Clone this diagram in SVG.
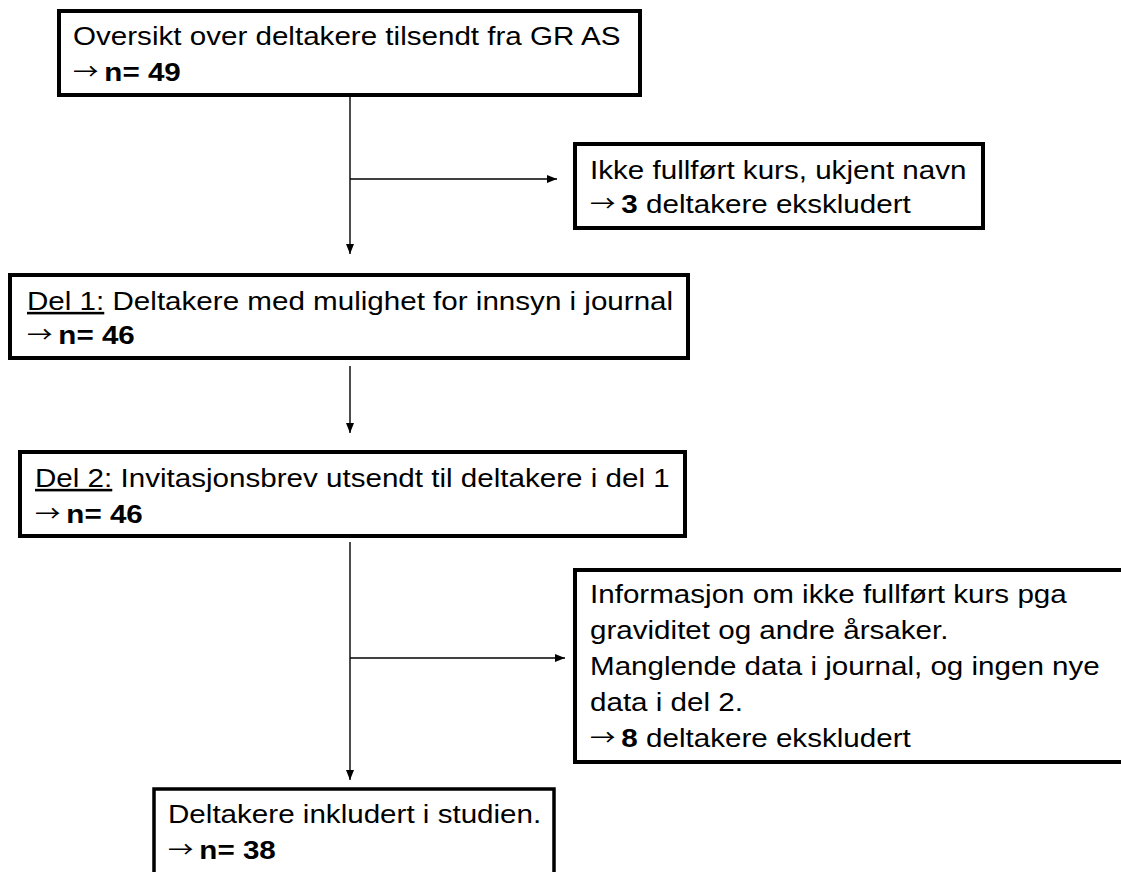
<svg xmlns="http://www.w3.org/2000/svg" width="1121" height="872" viewBox="0 0 1121 872">
<style>
.box{fill:#fff;stroke:#000;stroke-width:4}
.thin{stroke-width:3.5}
.t{font-family:"Liberation Sans",Arial,sans-serif;font-size:25.6px;fill:#000}
.a{font-family:"Noto Sans CJK JP","DejaVu Sans",sans-serif;font-size:22px}
.b{font-weight:bold}
.u{text-decoration:underline}
.c{fill:none;stroke:#000;stroke-width:1.4}
</style>
<defs>
<marker id="ah" markerUnits="userSpaceOnUse" markerWidth="10" markerHeight="8" refX="10" refY="4" orient="auto">
<path d="M0,0 L10,4 L0,8 z" fill="#000"/>
</marker>
</defs>
<rect width="1121" height="872" fill="#fff"/>
<g id="connectors">
<path class="c" d="M350,97 V254" marker-end="url(#ah)"/>
<path class="c" d="M350,179 H557" marker-end="url(#ah)"/>
<path class="c" d="M350,366 V433" marker-end="url(#ah)"/>
<path class="c" d="M350,542 V780" marker-end="url(#ah)"/>
<path class="c" d="M350,658 H565" marker-end="url(#ah)"/>
</g>
<g id="n1">
<rect class="box" x="59" y="11" width="581" height="84"/>
<text class="t" transform="matrix(1.156 0 0 1 73 0)"><tspan x="0" y="45">Oversikt over deltakere tilsendt fra GR AS</tspan><tspan x="0" y="81"><tspan class="a" dy="-2">→</tspan><tspan dy="2" dx="-2"> </tspan><tspan class="b">n= 49</tspan></tspan></text>
</g>
<g id="n2">
<rect class="box" x="575" y="144" width="408" height="84"/>
<text class="t" transform="matrix(1.156 0 0 1 590 0)"><tspan x="0" y="179">Ikke fullført kurs, ukjent navn</tspan><tspan x="0" y="213"><tspan class="a" dy="-2">→</tspan><tspan dy="2" dx="-2"> </tspan><tspan class="b">3</tspan> deltakere ekskludert</tspan></text>
</g>
<g id="n3">
<rect class="box" x="10" y="275" width="678" height="83"/>
<text class="t" transform="matrix(1.156 0 0 1 27 0)"><tspan x="0" y="310"><tspan class="u">Del 1:</tspan> Deltakere med mulighet for innsyn i journal</tspan><tspan x="0" y="344"><tspan class="a" dy="-2">→</tspan><tspan dy="2" dx="-2"> </tspan><tspan class="b">n= 46</tspan></tspan></text>
</g>
<g id="n4">
<rect class="box" x="20" y="452" width="665" height="84"/>
<text class="t" transform="matrix(1.156 0 0 1 35 0)"><tspan x="0" y="487"><tspan class="u">Del 2:</tspan> Invitasjonsbrev utsendt til deltakere i del 1</tspan><tspan x="0" y="523"><tspan class="a" dy="-2">→</tspan><tspan dy="2" dx="-2"> </tspan><tspan class="b">n= 46</tspan></tspan></text>
</g>
<g id="n5">
<rect class="box" x="575" y="570" width="560" height="192"/>
<text class="t" transform="matrix(1.156 0 0 1 590 0)"><tspan x="0" y="603">Informasjon om ikke fullført kurs pga</tspan><tspan x="0" y="639">graviditet og andre årsaker.</tspan><tspan x="0" y="675">Manglende data i journal, og ingen nye</tspan><tspan x="0" y="711">data i del 2.</tspan><tspan x="0" y="747"><tspan class="a" dy="-2">→</tspan><tspan dy="2" dx="-2"> </tspan><tspan class="b">8</tspan> deltakere ekskludert</tspan></text>
</g>
<g id="n6">
<rect class="box thin" x="154" y="789" width="400" height="100"/>
<text class="t" transform="matrix(1.156 0 0 1 168 0)"><tspan x="0" y="823">Deltakere inkludert i studien.</tspan><tspan x="0" y="859"><tspan class="a" dy="-2">→</tspan><tspan dy="2" dx="-2"> </tspan><tspan class="b">n= 38</tspan></tspan></text>
</g>
</svg>
